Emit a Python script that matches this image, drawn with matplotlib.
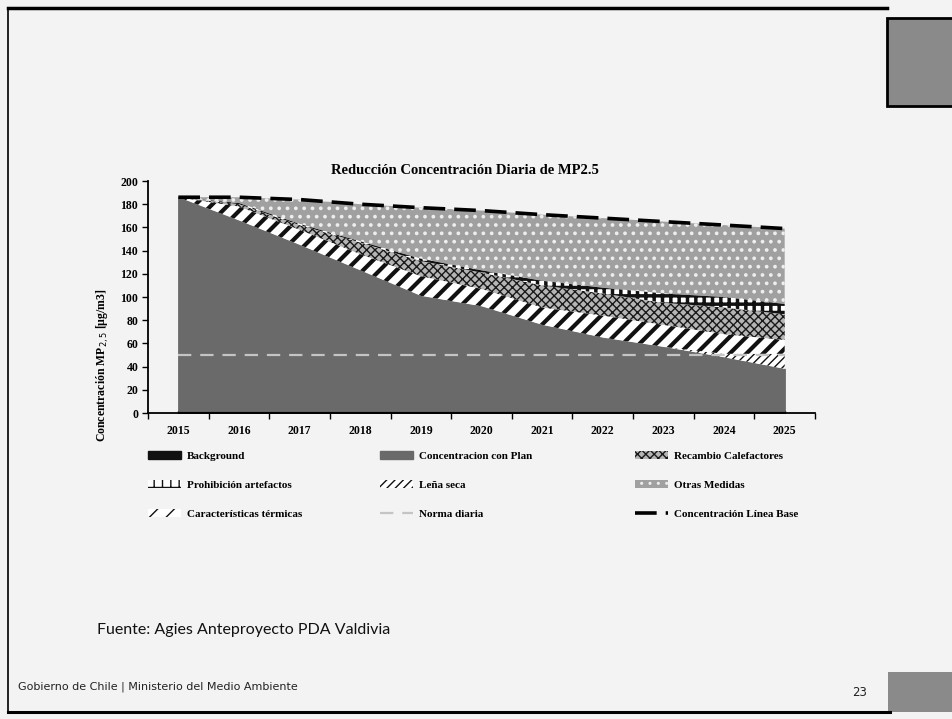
import matplotlib
matplotlib.use("Agg")
import matplotlib.pyplot as plt
import numpy as np
from matplotlib.lines import Line2D
from matplotlib.patches import Rectangle

# data (ug/m3), 2015-2025
years = np.arange(2015, 2026)
background = [2, 2, 2, 2, 2, 2, 2, 2, 2, 2, 2]
con_plan = [184, 164, 143, 121, 99, 90, 74, 63, 55, 46, 36]
lena_seca = [0, 0, 0, 0, 0, 0, 0, 0, 0, 3, 13]
caracteristicas = [0, 12, 13, 14, 17, 15, 15, 19, 19, 17, 12]
recambio = [0, 2, 4, 10, 13, 14, 19, 19, 19, 23, 22]
prohibicion = [0, 1, 1, 1, 2, 2, 4, 5, 8, 9, 9]
linea_base = [186, 186, 184, 180, 177, 174.5, 171, 168, 165, 162, 159]
norma_diaria = [50, 50, 50, 50, 50, 50, 50, 50, 50, 50, 50]

serif = "Liberation Serif"
W, H = 953, 719


def fx(px):
    return px / W


def fy(py):
    return 1 - py / H


fig = plt.figure(figsize=(W / 100, H / 100), dpi=100)
fig.patch.set_facecolor("#f3f3f3")

ax = fig.add_axes([fx(148), fy(413), fx(815) - fx(148), fy(181) - fy(413)])
ax.set_facecolor("none")

# stacked layers, bottom to top
layers = [
    ("Background", background, dict(facecolor="#111111", edgecolor="#111111"), 1.0),
    ("Concentracion con Plan", con_plan, dict(facecolor="#6a6a6a", edgecolor="#6a6a6a"), 1.0),
    ("Leña seca", lena_seca, dict(facecolor="white", edgecolor="#111111", hatch="////", lw=0), 1.0),
    ("Características térmicas", caracteristicas, dict(facecolor="white", edgecolor="#111111", hatch="//", lw=0), 3.0),
    ("Recambio Calefactores", recambio, dict(facecolor="#b5b5b5", edgecolor="#1a1a1a", hatch="xxxx", lw=0), 1.0),
    ("Prohibición artefactos", prohibicion, dict(facecolor="white", edgecolor="#111111", hatch="++", lw=0), 2.5),
]
handles = {}
bottom = np.zeros(len(years))
for name, vals, style, hlw in layers:
    top = bottom + np.array(vals, dtype=float)
    with plt.rc_context({"hatch.linewidth": hlw}):
        poly = ax.fill_between(years, bottom, top, label=name, zorder=2, **style)
    handles[name] = poly
    bottom = top

otras = np.array(linea_base) - bottom
with plt.rc_context({"hatch.linewidth": 1.5}):
    handles["Otras Medidas"] = ax.fill_between(years, bottom, bottom + otras, facecolor="#a0a0a0",
                                               edgecolor="#eeeeee", hatch="..", lw=0, zorder=1,
                                               label="Otras Medidas")

handles["Norma diaria"], = ax.plot(years, norma_diaria, color="#c4c4c4", lw=1.6, ls=(0, (6, 4)), zorder=3,
                                   label="Norma diaria")
handles["Concentración Línea Base"], = ax.plot(years, linea_base, color="black", lw=2.6, ls=(0, (6, 2.5)),
                                               zorder=4, label="Concentración Línea Base")

ax.set_xlim(2014.5, 2025.5)
ax.set_ylim(0, 200)
ax.set_yticks(np.arange(0, 201, 20))
ax.set_xticks(years)
ax.set_xticks(np.arange(2014.5, 2025.6, 1), minor=True)
ax.tick_params(axis="x", which="major", length=0, pad=9)
ax.tick_params(axis="x", which="minor", length=4, direction="out", width=1)
ax.tick_params(axis="y", length=4, direction="out", width=1, pad=3)
for lab in ax.get_xticklabels() + ax.get_yticklabels():
    lab.set_fontfamily(serif)
    lab.set_fontweight("bold")
    lab.set_fontsize(8.5)
for side in ["top", "right"]:
    ax.spines[side].set_visible(False)
for side in ["left", "bottom"]:
    ax.spines[side].set_linewidth(1.3)

fig.text(fx(465), fy(171), "Reducción Concentración Diaria de MP2.5", ha="center", va="center",
         fontfamily=serif, fontweight="bold", fontsize=10.5)
fig.text(fx(103), fy(365), "Concentración MP$_{2,5}$ [µg/m3]", rotation=90, ha="center", va="center",
         fontfamily=serif, fontweight="bold", fontsize=8.5)

# legend in three columns, like the Excel layout
columns = [
    (148, ["Background", "Prohibición artefactos", "Características térmicas"]),
    (380, ["Concentracion con Plan", "Leña seca", "Norma diaria"]),
    (635, ["Recambio Calefactores", "Otras Medidas", "Concentración Línea Base"]),
]
for x0, names in columns:
    fig.legend([handles[n] for n in names], names, loc="upper left", bbox_to_anchor=(fx(x0), fy(451)),
               frameon=False, borderpad=0, borderaxespad=0, handlelength=3.0, handleheight=0.7,
               handletextpad=0.5, labelspacing=1.75, prop=dict(family=serif, weight="bold", size=8))

# slide decorations
fig.text(fx(97), fy(630), "Fuente: Agies Anteproyecto PDA Valdivia", ha="left", va="center",
         fontfamily="Lato", fontsize=11.5, color="#111111")
fig.text(fx(18), fy(687), "Gobierno de Chile | Ministerio del Medio Ambiente", ha="left", va="center",
         fontfamily="DejaVu Sans", fontsize=8, color="#222222")
fig.text(fx(852), fy(692), "23", ha="left", va="center", fontfamily="DejaVu Sans", fontsize=8.5, color="#222222")

fig.add_artist(Line2D([fx(8), fx(887)], [fy(8), fy(8)], color="black", lw=2.5))
fig.add_artist(Line2D([fx(8), fx(8)], [fy(8), fy(712)], color="black", lw=1.2))
fig.add_artist(Line2D([fx(8), fx(890)], [fy(712), fy(712)], color="black", lw=2.2))
fig.add_artist(Rectangle((fx(887), fy(106)), fx(953) - fx(887), fy(18) - fy(106), facecolor="#8a8a8a",
                         edgecolor="black", lw=2, transform=fig.transFigure))
fig.add_artist(Rectangle((fx(888), fy(712)), fx(953) - fx(888), fy(672) - fy(712), facecolor="#8a8a8a",
                         edgecolor="none", transform=fig.transFigure))

fig.savefig("out.png", dpi=100, facecolor=fig.get_facecolor())
